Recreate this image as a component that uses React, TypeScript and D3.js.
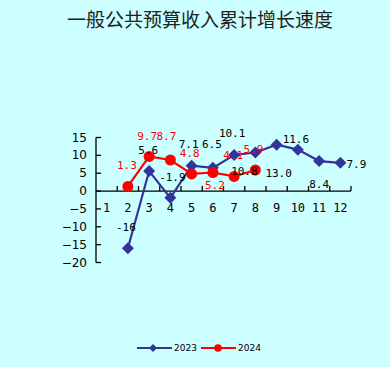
import * as d3 from "d3";

const months = [1, 2, 3, 4, 5, 6, 7, 8, 9, 10, 11, 12];
const yTicks = [15, 10, 5, 0, -5, -10, -15, -20];

// 2023 cumulative growth, months 2..12
const months2023 = [2, 3, 4, 5, 6, 7, 8, 9, 10, 11, 12];
const values2023 = [-16, 5.6, -1.9, 7.1, 6.5, 10.1, 10.8, 13.0, 11.6, 8.4, 7.9];
const labels2023 = ["-16", "5.6", "-1.9", "7.1", "6.5", "10.1", "10.8", "13.0", "11.6", "8.4", "7.9"];

// 2024 cumulative growth, months 2..8
const months2024 = [2, 3, 4, 5, 6, 7, 8];
const values2024 = [1.3, 9.7, 8.7, 4.8, 5.2, 4.1, 5.9];
const labels2024 = ["1.3", "9.7", "8.7", "4.8", "5.2", "4.1", "5.9"];

// label placement relative to each point (px), as in the original
const off2023 = [[-2, -21], [-1, -21], [2, -20], [-3, -21], [-1, -23], [-2, -22], [-11, 19], [2, 29], [-2, -10], [0, 23], [16, 2]];
const off2024 = [[-1, -21], [-2, -20], [-4, -24], [-2, -20], [2, 13], [-1, -21], [-2, -21]];

const W = 390;
const H = 367;
const BLUE = "#333399";
const RED = "#ff0000";
const labelFont = "'DejaVu Sans Mono', monospace";

export default function App() {
  const x = d3.scaleBand<number>().domain(months).range([96, 351]);
  const y = d3.scaleLinear().domain([-20, 15]).range([262.5, 137.5]);
  const cx = (m: number) => (x(m) as number) + x.bandwidth() / 2;

  const line = d3.line<[number, number]>().x((d) => cx(d[0])).y((d) => y(d[1]));
  const pts2023 = months2023.map((m, i) => [m, values2023[i]] as [number, number]);
  const pts2024 = months2024.map((m, i) => [m, values2024[i]] as [number, number]);

  const diamond = (px: number, py: number, s = 6) =>
    `M${px},${py - s}L${px + s},${py}L${px},${py + s}L${px - s},${py}Z`;

  const fmt = (v: number) => (v < 0 ? "\u2212" + Math.abs(v) : String(v));

  return (
    <svg width={W} height={H} style={{ position: "absolute", left: 0, top: 0 }}>
      <rect width={W} height={H} fill="#ccffff" />
      <text x={200} y={22} textAnchor="middle" dominantBaseline="middle"
        fontFamily="'Noto Sans CJK SC', sans-serif" fontSize={19} fill="#222">
        一般公共预算收入累计增长速度
      </text>

      {/* y axis */}
      <line x1={96} x2={96} y1={y(15)} y2={y(-20)} stroke="#000" strokeWidth={1.3} />
      {yTicks.map((t) => (
        <g key={t}>
          <line x1={96} x2={101} y1={y(t)} y2={y(t)} stroke="#000" strokeWidth={1.3} />
          <text x={87} y={y(t)} textAnchor="end" dominantBaseline="central"
            fontFamily="'DejaVu Sans', sans-serif" fontSize={12} fill="#000">{fmt(t)}</text>
        </g>
      ))}

      {/* x axis */}
      <line x1={96} x2={351} y1={y(0)} y2={y(0)} stroke="#000" strokeWidth={1.3} />
      {months.map((m) => (
        <g key={m}>
          <line x1={(x(m) as number) + x.bandwidth()} x2={(x(m) as number) + x.bandwidth()}
            y1={y(0)} y2={y(0) - 5} stroke="#000" strokeWidth={1.3} />
          <text x={cx(m)} y={208} textAnchor="middle" dominantBaseline="central"
            fontFamily={labelFont} fontSize={12} fill="#000">{m}</text>
        </g>
      ))}

      {/* 2023 */}
      <path d={line(pts2023) || ""} fill="none" stroke={BLUE} strokeWidth={2.2} />
      {pts2023.map((d, i) => (
        <path key={i} d={diamond(cx(d[0]), y(d[1]))} fill={BLUE} />
      ))}

      {/* 2024 */}
      <path d={line(pts2024) || ""} fill="none" stroke={RED} strokeWidth={2.2} />
      {pts2024.map((d, i) => (
        <circle key={i} cx={cx(d[0])} cy={y(d[1])} r={5.5} fill={RED} />
      ))}

      {pts2023.map((d, i) => (
        <text key={"l" + i} x={cx(d[0]) + off2023[i][0]} y={y(d[1]) + off2023[i][1]}
          textAnchor="middle" dominantBaseline="central" fontFamily={labelFont}
          fontSize={11} fill="#000">{labels2023[i]}</text>
      ))}
      {pts2024.map((d, i) => (
        <text key={"r" + i} x={cx(d[0]) + off2024[i][0]} y={y(d[1]) + off2024[i][1]}
          textAnchor="middle" dominantBaseline="central" fontFamily={labelFont}
          fontSize={11} fill={RED}>{labels2024[i]}</text>
      ))}

      {/* legend */}
      <g fontFamily="'DejaVu Sans', sans-serif" fontSize={9} fill="#000">
        <line x1={137} x2={172} y1={348} y2={348} stroke={BLUE} strokeWidth={2} />
        <path d={diamond(153, 348, 4)} fill={BLUE} />
        <text x={174} y={348} dominantBaseline="central">2023</text>
        <line x1={201} x2={236} y1={348} y2={348} stroke={RED} strokeWidth={2} />
        <circle cx={218} cy={348} r={3.8} fill={RED} />
        <text x={238} y={348} dominantBaseline="central">2024</text>
      </g>
    </svg>
  );
}
